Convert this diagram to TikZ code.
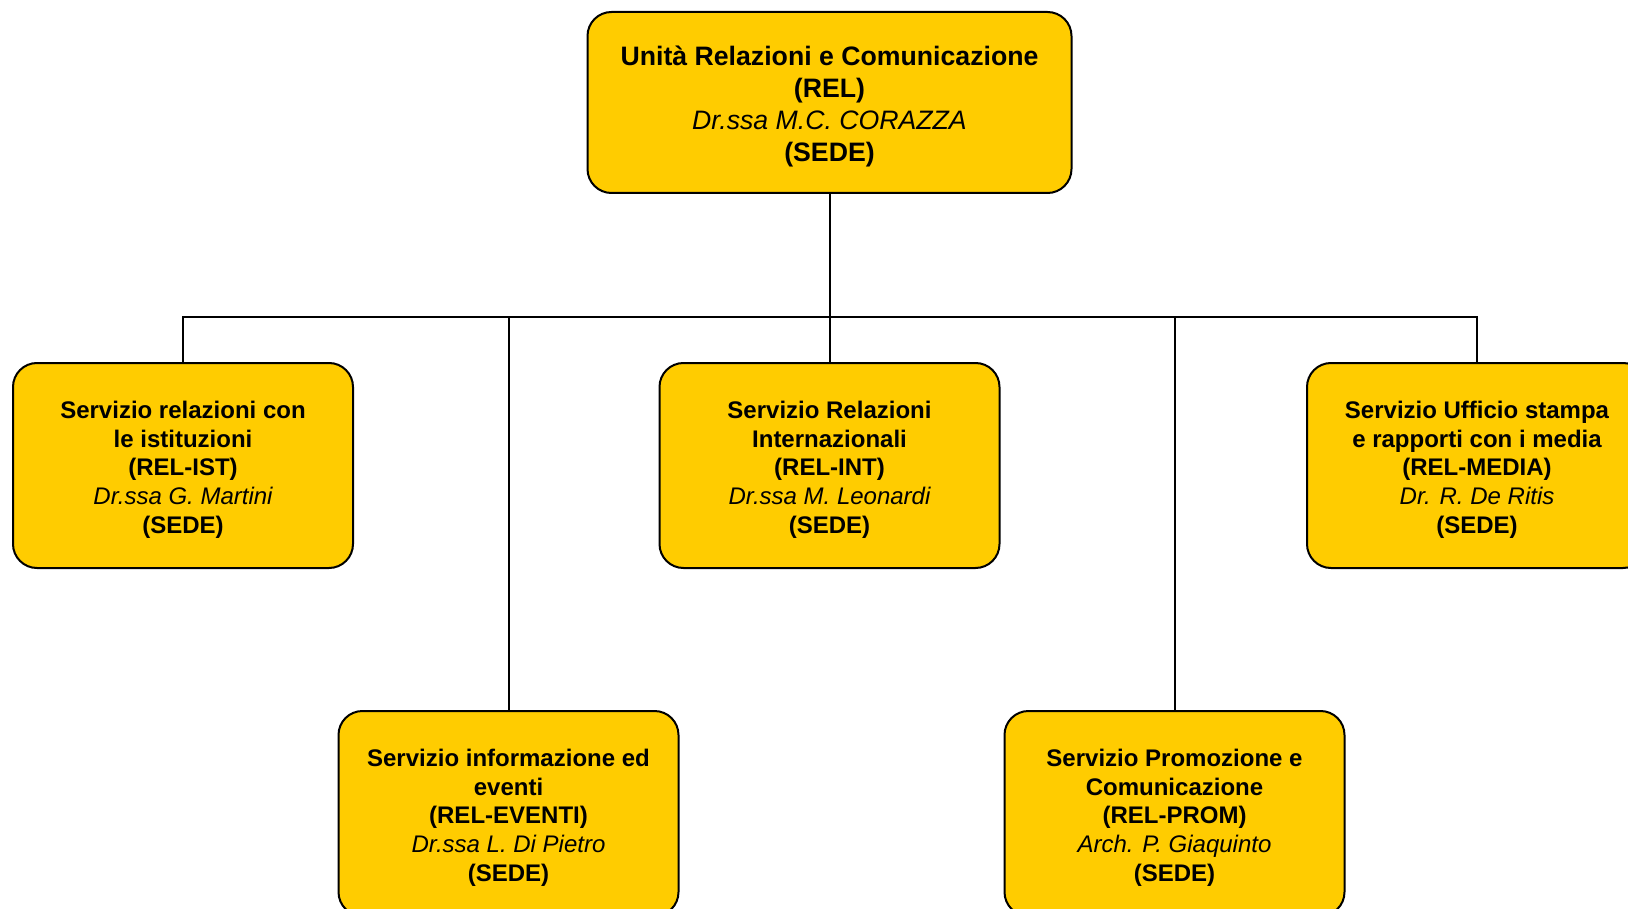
\documentclass[tikz,border=0pt]{standalone}
\usepackage{fontspec}
\setmainfont{Liberation Sans}
\usepackage{tikz}
\usetikzlibrary{positioning,calc}
\definecolor{relgold}{RGB}{255,204,0}
\newcommand{\resp}[1]{{\mdseries\itshape #1}}
\tikzset{
	unit/.style={draw,fill=relgold,line width=1.5pt,rounded corners=18pt,inner sep=0pt},
	unit text/.style={align=center,inner sep=0pt,yshift=-3.1pt},
	unit top/.style={unit,minimum width=363pt,minimum height=135.75pt,
		label={[unit text,font=\fontsize{20}{24}\selectfont\bfseries]center:#1}},
	unit sub/.style={unit,minimum width=255pt,minimum height=153.75pt,
		label={[unit text,font=\fontsize{18}{21.6}\selectfont\bfseries]center:#1}},
	wire/.style={draw,line width=1.5pt}
}

\begin{document}
\begin{tikzpicture}[x=0.75pt,y=-0.75pt]
      \useasboundingbox (0,0) rectangle (1628,909);
      \clip (0,0) rectangle (1628,909);
      \coordinate (bus) at (829.5,317);
      \node [unit top={Unità Relazioni e Comunicazione\\(REL)\\\resp{Dr.ssa M.C. CORAZZA}\\(SEDE)}] (rel) at (829.5,102.5) {};
      \node [unit sub={Servizio relazioni con\\le istituzioni\\(REL-IST)\\\resp{Dr.ssa G. Martini}\\(SEDE)}] (ist) at (183,465.5) {};
      \node [unit sub={Servizio Relazioni\\Internazionali\\(REL-INT)\\\resp{Dr.ssa M. Leonardi}\\(SEDE)}] (int) at (829.5,465.5) {};
      \node [unit sub={Servizio Ufficio stampa\\e rapporti con i media\\(REL-MEDIA)\\\resp{Dr. R. De Ritis}\\(SEDE)}] (media) at (1477,465.5) {};
      \node [unit sub={Servizio informazione ed\\eventi\\(REL-EVENTI)\\\resp{Dr.ssa L. Di Pietro}\\(SEDE)}] (eventi) at (508.5,813.5) {};
      \node [unit sub={Servizio Promozione e\\Comunicazione\\(REL-PROM)\\\resp{Arch. P. Giaquinto}\\(SEDE)}] (prom) at (1174.5,813.5) {};
      % connectors
      \draw [wire] (rel.south) -- (bus);
      \foreach \sub in {ist,int,media,eventi,prom}
        \draw [wire] (bus) -| (\sub.north);
   \end{tikzpicture}
\end{document}
